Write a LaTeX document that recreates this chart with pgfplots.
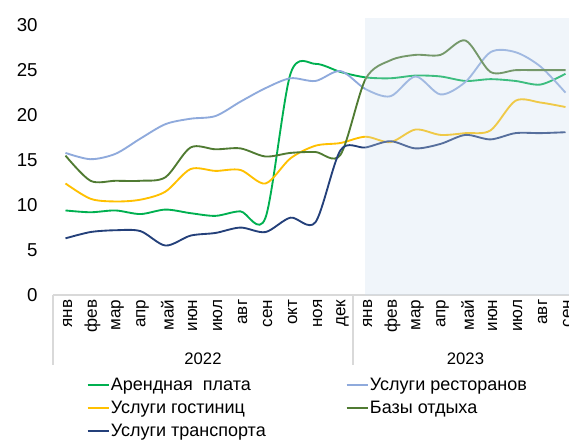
\documentclass[border=0pt]{standalone}
\usepackage{fontspec}
\setmainfont{Liberation Sans}
\usepackage{pgfplots}
\usepackage{pgfplotstable}
\pgfplotsset{compat=1.18}
\definecolor{crent}{HTML}{00B050}
\definecolor{crest}{HTML}{8FAADC}
\definecolor{chotel}{HTML}{FFC000}
\definecolor{cbase}{HTML}{507B32}
\definecolor{ctrans}{HTML}{24407A}
\definecolor{cshade}{HTML}{CDDEEE}
\definecolor{caxis}{HTML}{D9D9D9}
\pgfplotstableread{
i rent rest hotel base trans
0 9.4 15.8 12.4 15.5 6.3
1 9.2 15.1 10.7 12.7 7.0
2 9.4 15.7 10.4 12.7 7.2
3 9.0 17.4 10.6 12.7 7.1
4 9.5 19.0 11.5 13.1 5.5
5 9.1 19.6 14.0 16.4 6.6
6 8.8 19.9 13.8 16.2 6.9
7 9.3 21.5 13.9 16.3 7.5
8 8.6 23.0 12.4 15.4 7.0
9 24.6 24.1 15.2 15.8 8.6
10 25.7 23.8 16.6 15.9 8.1
11 24.8 24.9 16.9 15.6 16.1
12 24.2 22.9 17.6 24.0 16.4
13 24.1 22.1 17.0 26.1 17.1
14 24.4 24.3 18.4 26.7 16.3
15 24.3 22.3 17.8 26.7 16.8
16 23.8 23.7 18.0 28.3 17.8
17 24.0 27.0 18.3 24.8 17.3
18 23.8 27.0 21.6 25.0 18.0
19 23.4 25.4 21.4 25.0 18.0
20 24.6 22.5 20.9 25.0 18.1
}\datatab
\begin{document}
\begin{tikzpicture}
\begin{axis}[
  at={(0,0)}, anchor=south west,
  scale only axis,
  width=393.75pt, height=207.75pt,
  xmin=-0.5, xmax=20.5,
  ymin=0, ymax=30.8,
  ytick={0,5,10,15,20,25,30},
  xtick={0,...,20},
  xticklabels={янв,фев,мар,апр,май,июн,июл,авг,сен,окт,ноя,дек,янв,фев,мар,апр,май,июн,июл,авг,сен},
  /pgf/number format/assume math mode=true,
  axis x line=bottom, axis y line=left,
  x axis line style={draw=caxis, line width=0.8pt, -},
  y axis line style={draw=none},
  major tick length=0pt,
  y tick label style={font=\fontsize{14}{16}\selectfont, xshift=-8pt},
  x tick label style={font=\fontsize{12.8}{15}\selectfont, rotate=90, anchor=east, yshift=-1.5pt},
  clip=false,
  legend columns=2,
  legend cell align=left,
  legend image code/.code={\draw[#1] (0pt,0pt) -- (15.75pt,0pt);},
  legend style={at={(22pt,-58pt)}, anchor=north west, draw=none, fill=none,
    font=\fontsize{13.5}{16}\selectfont, row sep=2.5pt,
    /tikz/every odd column/.append style={column sep=-1pt},
    /tikz/every even column/.append style={column sep=58pt}},
]
\addplot[crent, line width=1.4pt, smooth] table[x=i, y=rent] {\datatab};
\addlegendentry{Арендная\ \ плата}
\addplot[crest, line width=1.4pt, smooth] table[x=i, y=rest] {\datatab};
\addlegendentry{Услуги ресторанов}
\addplot[chotel, line width=1.4pt, smooth] table[x=i, y=hotel] {\datatab};
\addlegendentry{Услуги гостиниц}
\addplot[cbase, line width=1.4pt, smooth] table[x=i, y=base] {\datatab};
\addlegendentry{Базы отдыха}
\addplot[ctrans, line width=1.4pt, smooth] table[x=i, y=trans] {\datatab};
\addlegendentry{Услуги транспорта}
\fill[cshade, opacity=0.3] (axis cs:12,0) rectangle (axis cs:20.5,30.8);
\draw[caxis, line width=0.8pt] (axis cs:-0.5,0) -- ++(0pt,-52.5pt);
\draw[caxis, line width=0.8pt] (axis cs:11.5,0) -- ++(0pt,-52.5pt);
\draw[caxis, line width=0.8pt] (axis cs:20.5,0) -- ++(0pt,-52.5pt);
\node[font=\fontsize{12.5}{15}\selectfont] at ([yshift=-48pt]axis cs:5.5,0) {2022};
\node[font=\fontsize{12.5}{15}\selectfont] at ([yshift=-48pt]axis cs:16,0) {2023};
\end{axis}
\pgfresetboundingbox
\useasboundingbox (-39.75pt,-108.75pt) rectangle (387pt,221.25pt);
\end{tikzpicture}
\end{document}
